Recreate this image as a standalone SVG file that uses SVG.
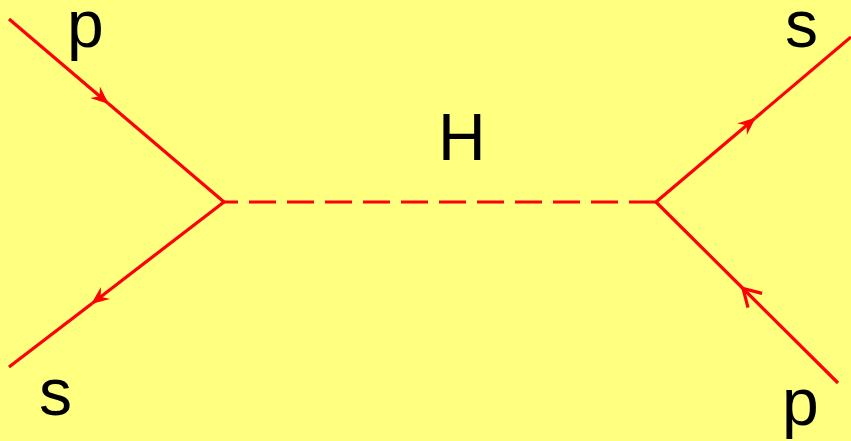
<svg xmlns="http://www.w3.org/2000/svg" width="851" height="441" viewBox="0 0 851 441">
<style>
.ln{stroke:#ff0000;stroke-width:3.2;fill:none}
.lbl{font-family:"Liberation Sans",Arial,sans-serif;font-size:66px;fill:#000}
</style>
<defs>
<marker id="fa" markerUnits="userSpaceOnUse" orient="auto" markerWidth="30" markerHeight="30" viewBox="-20 -10 30 20" refX="0" refY="0" overflow="visible">
<path d="M1,0 L-17,-7.5 L-11,0 L-17,7.5 Z" fill="#ff0000"/>
</marker>
<marker id="oa" markerUnits="userSpaceOnUse" orient="auto" markerWidth="30" markerHeight="30" viewBox="-25 -12 30 24" refX="0" refY="0" overflow="visible">
<path d="M-17,-10 L0,0 L-17,10" fill="none" stroke="#ff0000" stroke-width="3.2"/>
</marker>
</defs>
<rect width="851" height="441" fill="#ffff80"/>
<g id="connectors">
<path class="ln" d="M9,19 L108,103.3" marker-end="url(#fa)"/>
<path class="ln" d="M108,103.3 L224,202"/>
<path class="ln" d="M224,202 L92,303.4" stroke-width="4.2" marker-end="url(#fa)"/>
<path class="ln" d="M92,303.4 L9,367"/>
<path class="ln" d="M656,202 L755,118.2" marker-end="url(#fa)"/>
<path class="ln" d="M755,118.2 L851,37"/>
<path class="ln" d="M838,383 L743,288.5" marker-end="url(#oa)"/>
<path class="ln" d="M743,288.5 L656,202"/>
<path id="higgs" class="ln" d="M224,202 L656,202" stroke-dasharray="27 11" stroke-dashoffset="13"/>
</g>
<g id="label-p-in"><text class="lbl" x="67" y="47">p</text></g>
<g id="label-s-out"><text class="lbl" x="39" y="415">s</text></g>
<g id="label-H"><text class="lbl" x="438" y="160" font-size="61">H</text></g>
<g id="label-s-out2"><text class="lbl" x="785" y="47">s</text></g>
<g id="label-p-in2"><text class="lbl" x="782" y="425">p</text></g>
</svg>
